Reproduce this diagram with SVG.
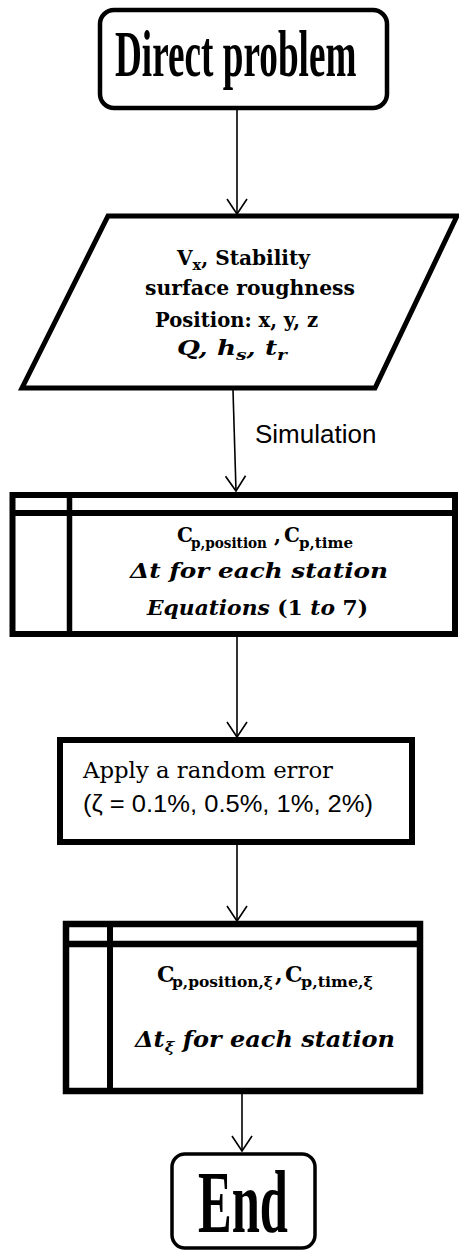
<svg xmlns="http://www.w3.org/2000/svg" width="459" height="1252" viewBox="0 0 459 1252">
<style>
.box{fill:#fff;stroke:#000}
.conn{fill:none;stroke:#000;stroke-width:1.6}
.cb{font-family:"DejaVu Serif","Liberation Serif",serif;font-weight:bold;fill:#000}
.mi{font-family:"DejaVu Serif","Liberation Serif",serif;font-weight:bold;font-style:italic;fill:#000}
.cr{font-family:"DejaVu Serif","Liberation Serif",serif;fill:#000}
.sans{font-family:"Liberation Sans","Open Sans",sans-serif;fill:#000}
.title{font-family:"Liberation Serif","Times New Roman",serif;font-weight:bold;fill:#000}
</style>
<defs>
<marker id="arr" markerUnits="userSpaceOnUse" viewBox="-17 -11 19 22" markerWidth="19" markerHeight="22" refX="0" refY="0" orient="auto">
<path d="M-15,-10 L0,0 L-15,10" fill="none" stroke="#000" stroke-width="1.6"/>
</marker>
</defs>
<rect width="459" height="1252" fill="#fff"/>

<g id="connectors">
<line class="conn" x1="237" y1="108" x2="237" y2="214" marker-end="url(#arr)"/>
<line class="conn" x1="233" y1="390" x2="236" y2="491" marker-end="url(#arr)"/>
<line class="conn" x1="237" y1="637" x2="237" y2="737" marker-end="url(#arr)"/>
<line class="conn" x1="237" y1="845" x2="237" y2="921" marker-end="url(#arr)"/>
<line class="conn" x1="242" y1="1094" x2="242" y2="1151" marker-end="url(#arr)"/>
<text class="sans" x="255" y="443" font-size="26">Simulation</text>
</g>

<g id="start">
<rect class="box" x="100" y="10" width="287" height="98" rx="14" stroke-width="4.5"/>
<text class="title" x="0" y="0" font-size="66" transform="translate(115,76) scale(0.564,1)">Direct problem</text>
</g>

<g id="input">
<polygon class="box" points="108,216 457,216 375,388 22,388" stroke-width="5" stroke-linejoin="miter"/>
<text class="cb" x="177" y="265" font-size="21" textLength="133" lengthAdjust="spacingAndGlyphs">V<tspan font-size="15" dy="5">x</tspan><tspan dy="-5">, Stability</tspan></text>
<text class="cb" x="145" y="295" font-size="21" textLength="210" lengthAdjust="spacingAndGlyphs">surface roughness</text>
<text class="cb" x="155" y="327" font-size="21" textLength="163" lengthAdjust="spacingAndGlyphs">Position: x, y, z</text>
<text class="mi" x="177" y="355" font-size="21" textLength="110" lengthAdjust="spacingAndGlyphs">Q, h<tspan font-size="15" dy="5">s</tspan><tspan dy="-5">, t</tspan><tspan font-size="15" dy="5">r</tspan></text>
</g>

<g id="simulation">
<rect class="box" x="12.5" y="495" width="442.5" height="139" stroke-width="6"/>
<line x1="12.5" y1="513" x2="455" y2="513" stroke="#000" stroke-width="6"/>
<line x1="69.5" y1="495" x2="69.5" y2="634" stroke="#000" stroke-width="5.5"/>
<text class="cb" x="177" y="542" font-size="20">C</text>
<text class="cb" x="191" y="548" font-size="14.5" textLength="76" lengthAdjust="spacingAndGlyphs">p,position</text>
<text class="cb" x="274" y="542" font-size="20">,</text>
<text class="cb" x="284" y="542" font-size="20">C</text>
<text class="cb" x="299" y="548" font-size="14.5" textLength="54" lengthAdjust="spacingAndGlyphs">p,time</text>
<text class="mi" x="130" y="578" font-size="21" textLength="258" lengthAdjust="spacingAndGlyphs">Δt for each station</text>
<text class="mi" x="147" y="615" font-size="21" textLength="221" lengthAdjust="spacingAndGlyphs">Equations <tspan class="cb" font-style="normal">(1 </tspan>to<tspan class="cb" font-style="normal"> 7)</tspan></text>
</g>

<g id="error">
<rect class="box" x="60" y="740" width="352" height="102" stroke-width="6"/>
<text class="cr" x="83" y="778" font-size="22" textLength="250" lengthAdjust="spacingAndGlyphs">Apply a random error</text>
<text class="sans" x="83" y="812" font-size="23" textLength="290" lengthAdjust="spacingAndGlyphs">(ζ = 0.1%, 0.5%, 1%, 2%)</text>
</g>

<g id="output">
<rect class="box" x="66" y="924" width="354" height="167" stroke-width="6.5"/>
<line x1="66" y1="944" x2="420" y2="944" stroke="#000" stroke-width="6.5"/>
<line x1="110" y1="924" x2="110" y2="1091" stroke="#000" stroke-width="6"/>
<text class="cb" x="157" y="982" font-size="22">C</text>
<text class="cb" x="172" y="987" font-size="15.5" textLength="101" lengthAdjust="spacingAndGlyphs">p,position,ξ</text>
<text class="cb" x="275" y="982" font-size="22">,</text>
<text class="cb" x="285" y="982" font-size="22">C</text>
<text class="cb" x="301" y="987" font-size="15.5" textLength="72" lengthAdjust="spacingAndGlyphs">p,time,ξ</text>
<text class="mi" x="135" y="1047" font-size="22" textLength="260" lengthAdjust="spacingAndGlyphs">Δt<tspan font-size="15" dy="5">ξ</tspan><tspan dy="-5"> for each station</tspan></text>
</g>

<g id="end">
<rect class="box" x="172" y="1154" width="143" height="94" rx="13" stroke-width="3.5"/>
<text class="title" x="0" y="0" font-size="89" transform="translate(198,1232) scale(0.568,1)">End</text>
</g>
</svg>
